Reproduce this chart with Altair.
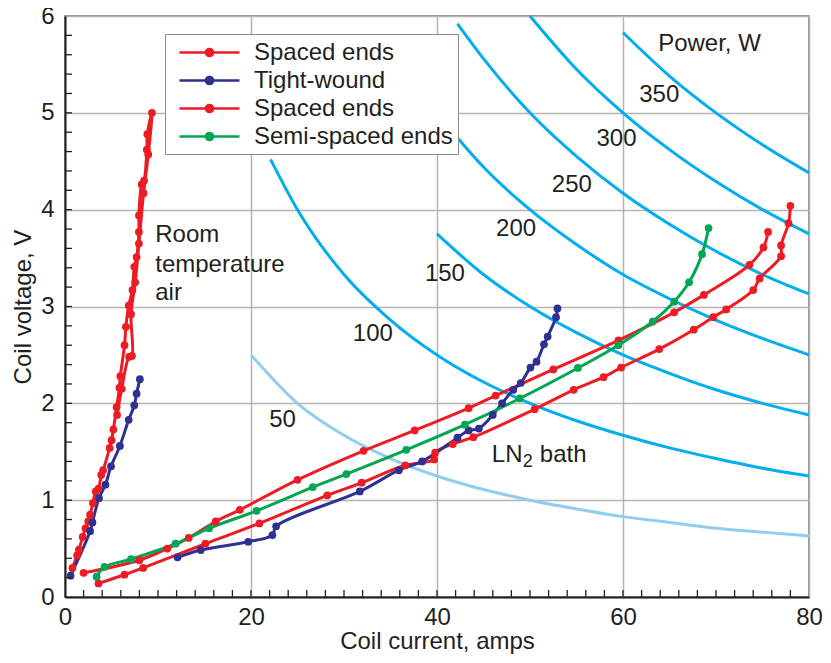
import altair as alt
import pandas as pd

FONT = "Liberation Sans"
TXT = "#231f20"

# ---------------- power curves (W): current (A) / voltage (V)
pow_curves = {
    50:  ([20, 25, 30, 35, 40, 45, 50, 55, 60, 65, 70, 75, 80],
          [2.50, 2.00, 1.67, 1.43, 1.25, 1.11, 1.00, 0.91, 0.83, 0.77, 0.71, 0.67, 0.63]),
    100: ([22.1, 25, 30, 35, 40, 45, 50, 55, 60, 65, 70, 75, 80],
          [4.52, 4.00, 3.33, 2.86, 2.50, 2.22, 2.00, 1.82, 1.67, 1.54, 1.43, 1.33, 1.25]),
    150: ([40, 45, 50, 55, 60, 65, 70, 75, 80],
          [3.75, 3.33, 3.00, 2.73, 2.50, 2.31, 2.14, 2.00, 1.88]),
    200: ([41.6, 45, 50, 55, 60, 65, 70, 75, 80],
          [4.81, 4.44, 4.00, 3.64, 3.33, 3.08, 2.86, 2.67, 2.50]),
    250: ([42.2, 45, 50, 55, 60, 65, 70, 75, 80],
          [5.92, 5.56, 5.00, 4.55, 4.17, 3.85, 3.57, 3.33, 3.13]),
    300: ([50, 55, 60, 65, 70, 75, 80],
          [6.00, 5.45, 5.00, 4.62, 4.29, 4.00, 3.75]),
    350: ([60, 65, 70, 75, 80],
          [5.83, 5.38, 5.00, 4.67, 4.38]),
}
pow_label_text = ["50", "100", "150", "200", "250", "300", "350", "Power, W"]
pow_label_i = [23.4, 33.1, 40.85, 48.5, 54.5, 59.3, 63.9, 69.3]
pow_label_v = [1.83, 2.72, 3.34, 3.80, 4.25, 4.73, 5.18, 5.71]

# ---------------- measured series
# Room-temperature air, spaced ends (up then back down)
air_spaced_i = [0.8, 1.3, 1.5, 1.9, 2.2, 2.5, 2.7, 3.0, 3.3, 3.6, 3.9, 4.1, 4.8, 5.0, 5.2,
                5.55, 5.85, 5.95, 6.4, 6.55, 6.85, 7.25, 7.45, 7.7, 7.95, 7.95, 8.25, 8.5,
                8.8, 8.85, 9.35, 8.95, 8.45, 7.95, 7.55, 7.1, 7.2, 6.9, 6.1, 5.6]
air_spaced_v = [0.30, 0.43, 0.49, 0.62, 0.71, 0.78, 0.85, 0.97, 1.09, 1.12, 1.26, 1.31, 1.54,
                1.62, 1.73, 1.96, 2.16, 2.28, 2.60, 2.79, 3.01, 3.17, 3.41, 3.51, 3.77, 3.94,
                4.26, 4.30, 4.62, 4.78, 5.00, 4.57, 4.17, 3.65, 3.25, 2.92, 2.49, 2.48, 2.15, 1.88]
# Room-temperature air, tight-wound
air_tight_i = [0.6, 2.7, 2.95, 3.65, 4.35, 4.95, 5.9, 6.85, 7.45, 7.7, 8.05]
air_tight_v = [0.22, 0.68, 0.77, 1.02, 1.16, 1.35, 1.56, 1.83, 1.98, 2.10, 2.25]
# LN2 bath, spaced ends: two runs
ln2_spaced_a_i = [2.0, 8.0, 11.0, 13.3, 16.2, 18.8, 25.0, 32.1, 37.6, 43.4, 46.3, 52.5,
                  59.5, 65.5, 68.7, 73.6, 75.1, 75.6]
ln2_spaced_a_v = [0.25, 0.38, 0.50, 0.61, 0.78, 0.90, 1.21, 1.51, 1.72, 1.95, 2.08, 2.35,
                  2.65, 2.94, 3.12, 3.43, 3.61, 3.77]
ln2_spaced_b_i = [3.6, 6.4, 8.4, 15.1, 20.9, 28.2, 31.9, 36.6, 39.7, 39.8, 41.7, 43.9, 50.5,
                  54.7, 57.9, 59.8, 63.9, 67.6, 69.7, 71.1, 74.0, 74.7, 77.0, 77.0, 77.8, 78.0]
ln2_spaced_b_v = [0.14, 0.23, 0.30, 0.55, 0.76, 1.05, 1.18, 1.36, 1.42, 1.49, 1.58, 1.65, 1.94,
                  2.14, 2.27, 2.37, 2.56, 2.76, 2.89, 2.97, 3.17, 3.29, 3.52, 3.63, 3.86, 4.04]
# LN2 bath, tight-wound
ln2_tight_i = [12.1, 14.6, 19.7, 22.3, 22.7, 31.7, 35.9, 38.4, 42.2, 43.4, 44.5, 46.0, 47.0,
               48.2, 49.0, 50.05, 50.7, 51.5, 51.9, 52.8, 52.95]
ln2_tight_v = [0.41, 0.485, 0.57, 0.64, 0.73, 1.09, 1.31, 1.40, 1.645, 1.72, 1.74, 1.88, 2.0,
               2.14, 2.21, 2.37, 2.43, 2.61, 2.69, 2.89, 2.98]
# LN2 bath, semi-spaced ends
ln2_semi_i = [3.4, 4.25, 7.1, 11.9, 15.5, 20.6, 26.65, 30.25, 36.7, 43.0, 48.9, 55.15, 59.5,
              63.2, 65.5, 67.1, 68.5, 69.2]
ln2_semi_v = [0.21, 0.31, 0.39, 0.55, 0.71, 0.89, 1.135, 1.27, 1.52, 1.78, 2.05, 2.365, 2.60,
              2.845, 3.05, 3.25, 3.54, 3.81]

series_names = ["Spaced ends", "Tight-wound", "Spaced ends ", "Semi-spaced ends"]
series_colors = ["#ed1c24", "#2e3192", "#ed1c24", "#00a651"]

room_text = ["Room", "temperature", "air"]
room_i = [9.7, 9.7, 9.7]
room_v = [3.74, 3.43, 3.14]
ln2_i = [45.9]
ln2_v = [1.47]

minor_x = [x for x in range(2, 80, 2)]
minor_y = [round(0.2 * k, 1) for k in range(1, 30)]

# ---------------- tables
rows = []
for name, branch, xs, ys in [
    (series_names[0], "air_spaced", air_spaced_i, air_spaced_v),
    (series_names[1], "air_tight", air_tight_i, air_tight_v),
    (series_names[2], "ln2_spaced_a", ln2_spaced_a_i, ln2_spaced_a_v),
    (series_names[2], "ln2_spaced_b", ln2_spaced_b_i, ln2_spaced_b_v),
    (series_names[1], "ln2_tight", ln2_tight_i, ln2_tight_v),
    (series_names[3], "ln2_semi", ln2_semi_i, ln2_semi_v),
]:
    for k, (a, b) in enumerate(zip(xs, ys)):
        rows.append({"series": name, "branch": branch, "idx": k, "I": a, "V": b})
df = pd.DataFrame(rows)

prow = []
for p, (xs, ys) in pow_curves.items():
    for a, b in zip(xs, ys):
        prow.append({"P": p, "I": a, "V": b})
dfp = pd.DataFrame(prow)

df_lab = pd.DataFrame({"I": pow_label_i, "V": pow_label_v, "t": pow_label_text})
df_room = pd.DataFrame({"I": room_i, "V": room_v, "t": room_text})
df_ln2 = pd.DataFrame({"I": ln2_i, "V": ln2_v})
df_mx = pd.DataFrame({"I": minor_x})
df_my = pd.DataFrame({"V": minor_y})

W, H = 744, 581

xscale = alt.Scale(domain=[0, 80], nice=False, zero=False)
yscale = alt.Scale(domain=[0, 6], nice=False, zero=False)
xaxis = alt.Axis(values=[0, 20, 40, 60, 80], title="Coil current, amps", grid=True, ticks=False,
                 labelFlush=False, labelPadding=8, titlePadding=0)
yaxis = alt.Axis(values=[0, 1, 2, 3, 4, 5, 6], title="Coil voltage, V", grid=True, ticks=False,
                 labelFlush=False, labelPadding=11, titlePadding=5)
X = alt.X("I:Q", scale=xscale, axis=xaxis)
Y = alt.Y("V:Q", scale=yscale, axis=yaxis)

cscale = alt.Scale(domain=series_names, range=series_colors)
SYM = ("M-2.5,0L2.5,0M0.3,0A0.3,0.3,0,1,1,-0.3,0A0.3,0.3,0,1,1,0.3,0Z")
leg = alt.Legend(title=None, orient="none", legendX=100, legendY=18, direction="vertical",
                 fillColor="white", strokeColor="#8c8c8c", padding=5,
                 labelFont=FONT, labelFontSize=24, labelColor=TXT, labelLimit=400,
                 symbolType=SYM, symbolSize=576, symbolStrokeWidth=2.5,
                 symbolOffset=26, labelOffset=31, rowPadding=2)

p50 = alt.Chart(dfp[dfp.P == 50]).mark_line(color="#90cdf0", strokeWidth=3,
                                            interpolate="monotone").encode(x=X, y=Y)
pother = alt.Chart(dfp[dfp.P != 50]).mark_line(color="#00aeef", strokeWidth=3,
                                               interpolate="monotone").encode(
    x=X, y=Y, detail="P:N")

lines = alt.Chart(df).mark_line(strokeWidth=3, interpolate="catmull-rom").encode(
    x=X, y=Y,
    stroke=alt.Stroke("series:N", scale=cscale, legend=leg),
    detail="branch:N", order="idx:Q")
pts = alt.Chart(df).mark_point(filled=True, size=60, opacity=1, strokeWidth=0).encode(
    x=X, y=Y, fill=alt.Fill("series:N", scale=cscale, legend=leg))

mx = alt.Chart(df_mx).mark_rule(color=TXT, strokeWidth=1.3).encode(
    x=X, y=alt.value(H), y2=alt.value(H - 7))
my = alt.Chart(df_my).mark_rule(color=TXT, strokeWidth=1.3).encode(
    y=Y, x=alt.value(0), x2=alt.value(7))

tkw = dict(font=FONT, fontSize=24, color=TXT)
labs = alt.Chart(df_lab).mark_text(align="center", baseline="middle", **tkw).encode(
    x=X, y=Y, text="t:N")
room = alt.Chart(df_room).mark_text(align="left", baseline="middle", **tkw).encode(
    x=X, y=Y, text="t:N")
ln_a = alt.Chart(df_ln2).mark_text(align="left", baseline="middle", text="LN", **tkw).encode(x=X, y=Y)
ln_b = alt.Chart(df_ln2).mark_text(align="left", baseline="middle", text="2", dx=31, dy=7,
                                   font=FONT, fontSize=18, color=TXT).encode(x=X, y=Y)
ln_c = alt.Chart(df_ln2).mark_text(align="left", baseline="middle", text="bath", dx=48,
                                   **tkw).encode(x=X, y=Y)

chart = alt.layer(p50, pother, lines, pts, mx, my, labs, room, ln_a, ln_b, ln_c).properties(
    width=W, height=H,
    autosize=alt.AutoSizeParams(type="none"),
    padding={"left": 57, "top": 8, "right": 14, "bottom": 58},
).configure_view(stroke="#6d6e71", strokeWidth=1.5).configure_axis(
    labelFont=FONT, labelFontSize=24, labelColor=TXT,
    titleFont=FONT, titleFontSize=24, titleFontWeight="normal", titleColor=TXT,
    domainColor=TXT, domainWidth=2, gridColor="#b5b5b5", gridWidth=1.5,
)

chart.save("out.html", embed_options={"renderer": "svg", "actions": False})
